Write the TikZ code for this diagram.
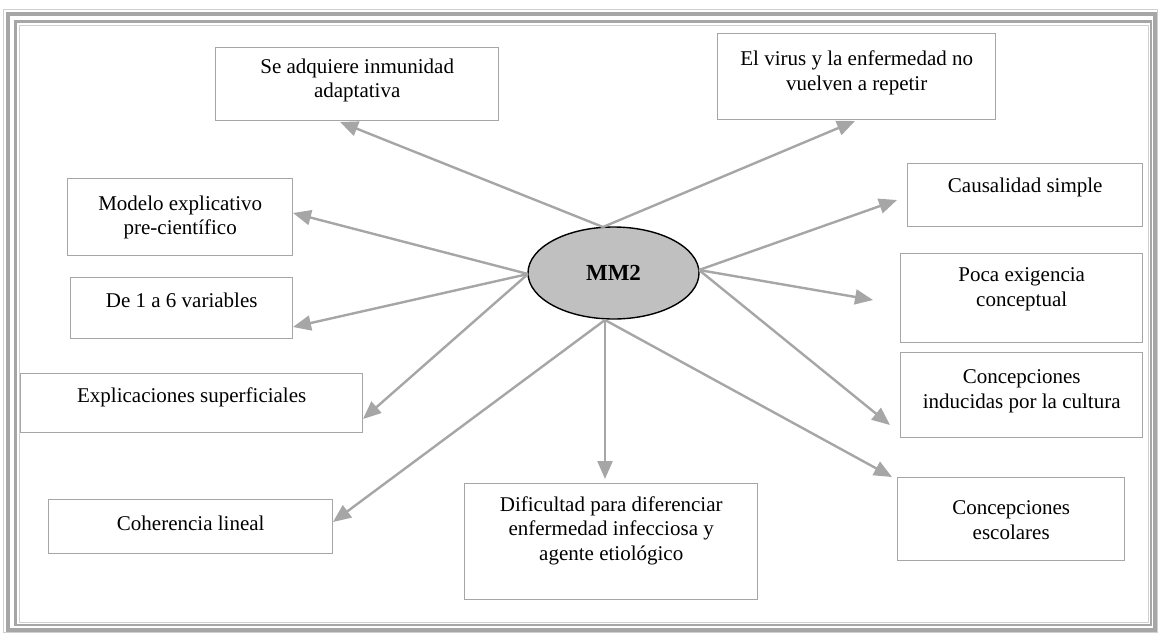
\documentclass[tikz,border=0pt]{standalone}
\usepackage{fontspec}
\setmainfont{Liberation Serif}
\usetikzlibrary{arrows.meta,calc,shapes.geometric}
\definecolor{lg}{HTML}{A6A6A6}
\definecolor{lgl}{HTML}{D0D0D0}
\definecolor{ell}{HTML}{C0C0C0}
\begin{document}
\begin{tikzpicture}[x=1pt,y=-1pt,
  box/.style={draw=lg,line width=1.4pt,inner sep=0pt,anchor=north west},
  txt/.style={align=center,inner sep=0pt,font=\fontsize{21}{24.5}\selectfont},
  arr/.style={draw=lg,line width=2.4pt,-{Triangle[length=18pt,width=15pt]}},
  frame/.style={draw=lg}]
\useasboundingbox (0,0) rectangle (1159,635);
% page border
\draw[draw=lgl,line width=1pt] (3.5,9) rectangle (1157.5,632);
\draw[frame,line width=4pt] (8,13.5) rectangle (1155,629.5);
\draw[frame,line width=2.5pt] (15.5,21.5) rectangle (1151,625);
\draw[draw=lgl,line width=1pt] (19,25) rectangle (1148,622);
% boxes
\node[box,minimum width=283pt,minimum height=73pt] (n1) at (215,47) {};
\node[box,minimum width=278pt,minimum height=86pt] (n2) at (717,33) {};
\node[box,minimum width=225pt,minimum height=77pt] (n3) at (67,178) {};
\node[box,minimum width=235pt,minimum height=63pt] (n4) at (907,163) {};
\node[box,minimum width=222pt,minimum height=61pt] (n5) at (70,277) {};
\node[box,minimum width=242pt,minimum height=89pt] (n6) at (900,253) {};
\node[box,minimum width=342pt,minimum height=59pt] (n7) at (20,373) {};
\node[box,minimum width=242pt,minimum height=85pt] (n8) at (900,352) {};
\node[box,minimum width=284pt,minimum height=54pt] (n9) at (48,499) {};
\node[box,minimum width=293pt,minimum height=116pt] (n10) at (464,483) {};
\node[box,minimum width=227pt,minimum height=83pt] (n11) at (897,477) {};
% texts
\node[txt,yshift=4pt] (x1) at (n1.center) {Se adquiere inmunidad\\adaptativa};
\node[txt,yshift=4pt] (x2) at (n2.center) {El virus y la enfermedad no\\vuelven a repetir};
\node[txt] (x3) at (n3.center) {Modelo explicativo\\pre-científico};
\node[txt,yshift=8pt] (x4) at (n4.center) {Causalidad simple};
\node[txt,yshift=8pt] (x5) at (n5.center) {De 1 a 6 variables};
\node[txt,yshift=9pt] (x6) at (n6.center) {Poca exigencia\\conceptual};
\node[txt,yshift=6pt] (x7) at (n7.center) {Explicaciones superficiales};
\node[txt,yshift=4pt] (x8) at (n8.center) {Concepciones\\inducidas por la cultura};
\node[txt,yshift=3pt] (x9) at (n9.center) {Coherencia lineal};
\node[txt,yshift=11pt] (x10) at (n10.center) {Dificultad para diferenciar\\enfermedad infecciosa y\\agente etiológico};
\node[txt,yshift=-1pt] (x11) at (n11.center) {Concepciones\\escolares};
% central ellipse
\node[ellipse,draw=black,fill=ell,line width=1.4pt,minimum width=171pt,minimum height=92pt,
      font=\fontsize{23}{26}\selectfont\bfseries] (mm) at (613.5,273) {MM2};
\coordinate (mt) at (603,227);
\coordinate (ml) at (528,274);
\coordinate (mr) at (699,270);
\coordinate (mb) at (605,320);
% arrow tips
\coordinate (t1) at (340,122);
\coordinate (t2) at (855,121);
\coordinate (t3) at (293,213);
\coordinate (t4) at (897,200);
\coordinate (t5) at (293,327);
\coordinate (t6) at (873,300);
\coordinate (t7) at (363,419);
\coordinate (t8) at (890,425);
\coordinate (t9) at (333,522);
\coordinate (t10) at (605,479);
\coordinate (t11) at (892,477);
% connectors
\draw[arr] (mt) -- (t1);
\draw[arr] (mt) -- (t2);
\draw[arr] (ml) -- (t3);
\draw[arr] (ml) -- (t5);
\draw[arr] (ml) -- (t7);
\draw[arr] (mr) -- (t4);
\draw[arr] (mr) -- (t6);
\draw[arr] (mr) -- (t8);
\draw[arr] (mb) -- (t9);
\draw[arr] (mb) -- (t10);
\draw[arr] (mb) -- (t11);
\end{tikzpicture}
\end{document}
